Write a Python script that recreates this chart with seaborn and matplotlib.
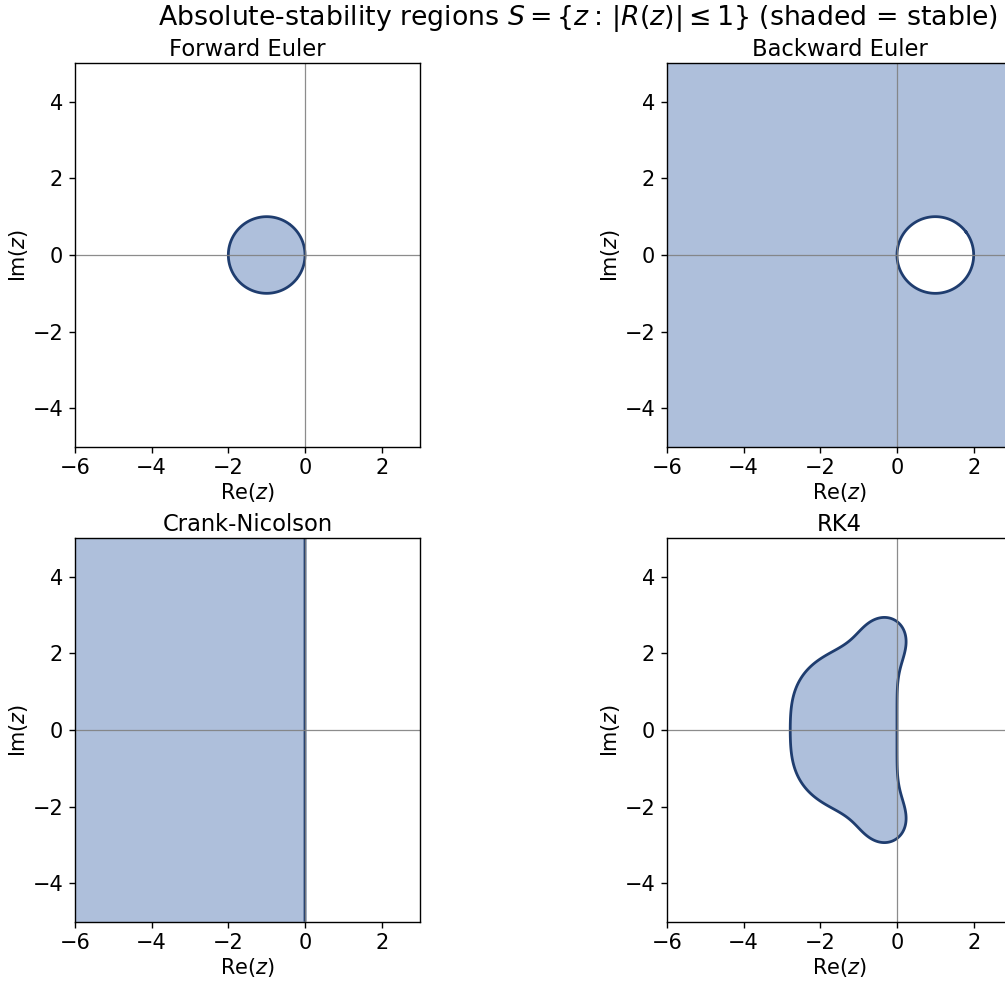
import numpy as np
import matplotlib
matplotlib.use("Agg")
import matplotlib.pyplot as plt
import seaborn as sns

# Methods and their stability functions R(z) = N(z)/D(z), coefficients in increasing powers
methods = ["Forward Euler", "Backward Euler", "Crank-Nicolson", "RK4"]
num_coefs = [[1, 1], [1], [1, 0.5], [1, 1, 1/2, 1/6, 1/24]]
den_coefs = [[1], [1, -1], [1, -0.5], [1]]
x_range = [-6, 3]
y_range = [-5, 5]
x_ticks = [-6, -4, -2, 0, 2]
y_ticks = [-4, -2, 0, 2, 4]

sns.set_style("ticks")
plt.rcParams['font.family'] = ['DejaVu Sans']
plt.rcParams.update({
    'axes.edgecolor': 'black', 'text.color': 'black', 'axes.labelcolor': 'black',
    'xtick.color': 'black', 'ytick.color': 'black',
})

fill_color = "#4c72b0"
edge_color = "#1f3d6f"

fig = plt.figure(figsize=(10.05, 9.86), dpi=100)
W, H = 1005, 986
boxes = [(75, 63), (667, 63), (75, 538), (667, 538)]
aw, ah = 345, 384

xs = np.linspace(x_range[0], x_range[1], 901)
ys = np.linspace(y_range[0], y_range[1], 1001)
X, Y = np.meshgrid(xs, ys)
Z = X + 1j * Y

for name, nc, dc, (lx, ty) in zip(methods, num_coefs, den_coefs, boxes):
    ax = fig.add_axes([lx / W, (H - ty - ah) / H, aw / W, ah / H])
    N = np.polynomial.polynomial.polyval(Z, nc)
    D = np.polynomial.polynomial.polyval(Z, dc)
    with np.errstate(divide="ignore", invalid="ignore"):
        A = np.abs(N / D)
    A = np.nan_to_num(A, nan=1e6, posinf=1e6)
    ax.contourf(X, Y, A, levels=[0, 1], colors=[fill_color], alpha=0.45)
    ax.contour(X, Y, A, levels=[1], colors=[edge_color], linewidths=2)
    ax.axhline(0, color="gray", lw=0.9, alpha=0.9)
    ax.axvline(0, color="gray", lw=0.9, alpha=0.9)
    ax.set_xlim(x_range)
    ax.set_ylim(y_range)
    ax.set_aspect("equal")
    ax.set_xticks(x_ticks)
    ax.set_yticks(y_ticks)
    ax.tick_params(labelsize=15, length=4.5, width=1.0, pad=4)
    ax.set_xlabel(r"Re$(z)$", fontsize=15, labelpad=2)
    ax.set_ylabel(r"Im$(z)$", fontsize=15, labelpad=2)
    ax.set_title(name, fontsize=16.25, pad=5)
    for s in ax.spines.values():
        s.set_linewidth(1.0)

fig.suptitle(r"Absolute-stability regions $S=\{z:\,|R(z)|\leq 1\}$ (shaded = stable)",
             x=578 / W, y=1 - 3 / H, va="top", fontsize=19.3)

fig.savefig("out.png", dpi=100)
